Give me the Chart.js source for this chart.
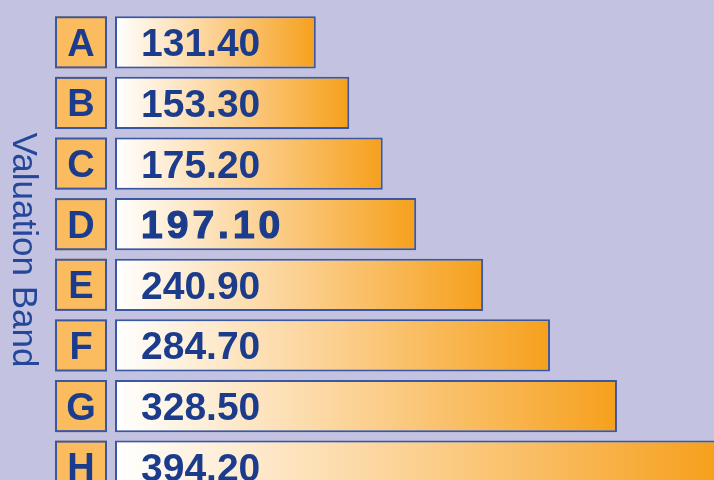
<!DOCTYPE html>
<html>
<head>
<meta charset="utf-8">
<script src="https://cdn.jsdelivr.net/npm/chart.js@4"></script>
<style>
  html, body { margin: 0; padding: 0; overflow: hidden; background: #c3c3e1; }
  #wrap { width: 714px; height: 497px; }
</style>
</head>
<body>
<div id="wrap"><canvas id="graficoBandas"></canvas></div>
<script>
// dados do gráfico
const bandas = ["A", "B", "C", "D", "E", "F", "G", "H"];
const valores = [131.40, 153.30, 175.20, 197.10, 240.90, 284.70, 328.50, 394.20];
const rotulos = ["131.40", "153.30", "175.20", "197.10", "240.90", "284.70", "328.50", "394.20"];
const tituloEixo = "Valuation Band";

const azul = "#1b3c8c";
const borda = "#3a57a2";

function gradienteBarra(context) {
  const chart = context.chart;
  if (!chart.chartArea) return "#f7a521";
  const x = chart.scales.x;
  const x0 = x.getPixelForValue(0);
  const x1 = x.getPixelForValue(context.raw);
  const g = chart.ctx.createLinearGradient(x0, 0, x1, 0);
  g.addColorStop(0, "#ffffff");
  g.addColorStop(0.45, "#fcd59c");
  g.addColorStop(1, "#f6a01c");
  return g;
}

// caixas das letras, valores dentro das barras e título do eixo
const rotulosPlugin = {
  id: "rotulos",
  afterDatasetsDraw(chart) {
    const ctx = chart.ctx;
    const meta = chart.getDatasetMeta(0);
    ctx.save();
    meta.data.forEach((bar, i) => {
      const h = bar.height;
      const top = bar.y - h / 2;
      // caixa da letra
      ctx.fillStyle = "#fbbb5f";
      ctx.fillRect(55, top, 52, h);
      ctx.strokeStyle = borda;
      ctx.lineWidth = 2;
      ctx.strokeRect(56, top + 1, 50, h - 2);
      ctx.fillStyle = azul;
      ctx.font = "bold 38px 'Liberation Sans', Arial, sans-serif";
      ctx.textAlign = "center";
      ctx.textBaseline = "alphabetic";
      ctx.letterSpacing = "0px";
      ctx.fillText(bandas[i], 81, bar.y + 13.5);

      // valor
      ctx.textAlign = "left";
      ctx.font = "bold 39px 'Liberation Sans', Arial, sans-serif";
      if (bandas[i] === "D") {
        ctx.letterSpacing = "4px";
        ctx.strokeStyle = azul;
        ctx.lineWidth = 1.2;
        ctx.strokeText(rotulos[i], bar.base + 26, bar.y + 14);
      }
      ctx.fillText(rotulos[i], bar.base + 26, bar.y + 14);
      ctx.letterSpacing = "0px";
    });

    // título do eixo, lido de cima para baixo
    ctx.translate(23, 250);
    ctx.rotate(Math.PI / 2);
    ctx.fillStyle = "#24479a";
    ctx.font = "35px 'Liberation Sans', Arial, sans-serif";
    ctx.textAlign = "center";
    ctx.textBaseline = "middle";
    ctx.fillText(tituloEixo, 0, 0);
    ctx.restore();
  }
};

new Chart(document.getElementById("graficoBandas"), {
  type: "bar",
  data: {
    labels: bandas,
    datasets: [{
      data: valores,
      backgroundColor: gradienteBarra,
      borderColor: borda,
      borderWidth: 2,
      borderSkipped: false,
      barPercentage: 0.86,
      categoryPercentage: 1
    }]
  },
  options: {
    indexAxis: "y",
    responsive: true,
    maintainAspectRatio: false,
    animation: false,
    layout: { padding: { top: 12, bottom: 0, left: 0, right: 0 } },
    plugins: {
      legend: { display: false },
      tooltip: { enabled: false }
    },
    scales: {
      x: {
        display: false,
        min: 0,
        max: 392
      },
      y: {
        grid: { display: false },
        border: { display: false },
        ticks: { display: false },
        title: { display: false },
        afterFit(scale) { scale.width = 115; }
      }
    }
  },
  plugins: [rotulosPlugin]
});
</script>
</body>
</html>
